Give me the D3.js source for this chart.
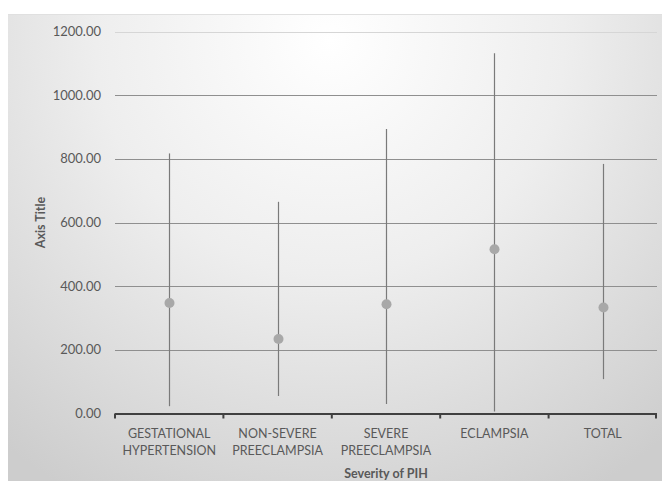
<!DOCTYPE html>
<html>
<head>
<meta charset="utf-8">
<script src="https://cdn.jsdelivr.net/npm/d3@7"></script>
<style>
  html, body { margin: 0; padding: 0; background: #ffffff; }
  svg { display: block; }
  text { font-family: Lato, "Open Sans", sans-serif; }
</style>
</head>
<body>
<svg id="chart" width="662" height="481"></svg>
<script>
// Severity of PIH: mean with low/high range per group
const categories = [
  ["GESTATIONAL", "HYPERTENSION"],
  ["NON-SEVERE", "PREECLAMPSIA"],
  ["SEVERE", "PREECLAMPSIA"],
  ["ECLAMPSIA"],
  ["TOTAL"]
];
const meanValues = [347, 234, 343, 516, 333];
const lowValues  = [23, 55, 30, 6, 108];
const highValues = [817, 665, 894, 1132, 784];
const yTicks = [0, 200, 400, 600, 800, 1000, 1200];

const svg = d3.select("#chart");
const W = 662, H = 481;
const margin = { left: 115, right: 5 };
const plotW = W - margin.left - margin.right;
const yTop = 31.5, yBottom = 413.5;

// Chart-area background with soft radial shading
const defs = svg.append("defs");
const grad = defs.append("radialGradient")
  .attr("id", "bg").attr("gradientUnits", "userSpaceOnUse")
  .attr("cx", 330).attr("cy", 40).attr("r", 520);
grad.append("stop").attr("offset", "0%").attr("stop-color", "#ffffff");
grad.append("stop").attr("offset", "45%").attr("stop-color", "#eeeeee");
grad.append("stop").attr("offset", "100%").attr("stop-color", "#cdcdcd");

svg.append("rect").attr("x", 8).attr("y", 14).attr("width", W - 8).attr("height", H - 14)
  .attr("fill", "url(#bg)");
svg.append("line").attr("x1", 8).attr("x2", W).attr("y1", 14.5).attr("y2", 14.5)
  .attr("stroke", "#e0e0e0").attr("stroke-width", 1);

const x = d3.scaleBand()
  .domain(d3.range(categories.length))
  .range([margin.left, margin.left + plotW])
  .paddingInner(0).paddingOuter(0);

const y = d3.scaleLinear().domain([0, 1200]).range([yBottom, yTop]);

// Horizontal gridlines
svg.append("g")
  .selectAll("line")
  .data(yTicks.filter(t => t > 0))
  .join("line")
  .attr("x1", margin.left).attr("x2", margin.left + plotW)
  .attr("y1", d => Math.round(y(d)) + 0.5).attr("y2", d => Math.round(y(d)) + 0.5)
  .attr("stroke", d => d === 1200 ? "#d6d6d6" : "#8f8f8f")
  .attr("stroke-width", 1);

// Y tick labels
svg.append("g")
  .selectAll("text")
  .data(yTicks)
  .join("text")
  .attr("x", 101)
  .attr("y", d => y(d))
  .attr("dy", "0.35em")
  .attr("text-anchor", "end")
  .attr("font-size", 13)
  .attr("fill", "#595959")
  .text(d => d3.format(".2f")(d));

// Range lines
const cx = i => x(i) + x.bandwidth() / 2;
svg.append("g")
  .selectAll("line")
  .data(d3.range(categories.length))
  .join("line")
  .attr("x1", i => Math.round(cx(i)) + 0.5).attr("x2", i => Math.round(cx(i)) + 0.5)
  .attr("y1", i => y(lowValues[i])).attr("y2", i => y(highValues[i]))
  .attr("stroke", "#7a7a7a").attr("stroke-width", 1.2);

// Mean markers
svg.append("g")
  .selectAll("circle")
  .data(d3.range(categories.length))
  .join("circle")
  .attr("cx", i => Math.round(cx(i)) + 0.5)
  .attr("cy", i => y(meanValues[i]))
  .attr("r", 5)
  .attr("fill", "#a8a8a8");

// X axis with category ticks
const xAxis = svg.append("g");
xAxis.append("line")
  .attr("x1", margin.left).attr("x2", margin.left + plotW)
  .attr("y1", yBottom + 0.5).attr("y2", yBottom + 0.5)
  .attr("stroke", "#404040").attr("stroke-width", 2);
xAxis.selectAll("line.tick")
  .data(d3.range(categories.length + 1))
  .join("line")
  .attr("class", "tick")
  .attr("x1", i => i < categories.length ? x(i) : margin.left + plotW - 1)
  .attr("x2", i => i < categories.length ? x(i) : margin.left + plotW - 1)
  .attr("y1", yBottom).attr("y2", yBottom + 5)
  .attr("stroke", "#404040").attr("stroke-width", 2);

// Category labels
svg.append("g")
  .selectAll("text")
  .data(categories)
  .join("text")
  .attr("x", (d, i) => cx(i))
  .attr("y", 434)
  .attr("text-anchor", "middle")
  .attr("font-size", 12.5)
  .attr("fill", "#595959")
  .selectAll("tspan")
  .data(d => d)
  .join("tspan")
  .attr("x", function () { return d3.select(this.parentNode).attr("x"); })
  .attr("dy", (d, j) => j === 0 ? "0.35em" : "17px")
  .text(d => d);

// Axis titles
svg.append("text")
  .attr("x", cx(2)).attr("y", 478)
  .attr("text-anchor", "middle")
  .attr("font-size", 12.5).attr("font-weight", "bold")
  .attr("fill", "#595959")
  .text("Severity of PIH");

svg.append("text")
  .attr("transform", `translate(45, ${y(600)}) rotate(-90)`)
  .attr("text-anchor", "middle")
  .attr("font-size", 12.5).attr("font-weight", "bold")
  .attr("fill", "#595959")
  .text("Axis Title");
</script>
</body>
</html>
